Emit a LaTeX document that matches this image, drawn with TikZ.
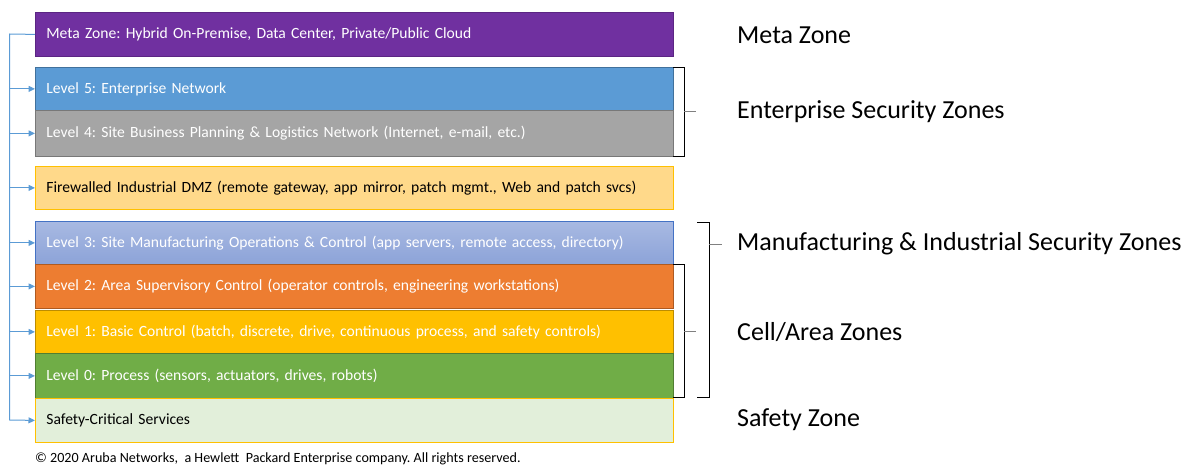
\documentclass[tikz,border=0pt]{standalone}
\usepackage{fontspec}
\setmainfont{Carlito}
\frenchspacing
\usetikzlibrary{arrows.meta,calc}
\definecolor{cMeta}{HTML}{7030A0}
\definecolor{cMetaB}{HTML}{5B2583}
\definecolor{cL5}{HTML}{5B9BD5}
\definecolor{cL5B}{HTML}{41719C}
\definecolor{cL4}{HTML}{A5A5A5}
\definecolor{cL4B}{HTML}{787878}
\definecolor{cDMZ}{HTML}{FFD98A}
\definecolor{cYel}{HTML}{FFC000}
\definecolor{cL3a}{HTML}{A8B9E2}
\definecolor{cL3b}{HTML}{8CA3D8}
\definecolor{cL3B}{HTML}{4472C4}
\definecolor{cL2}{HTML}{ED7D31}
\definecolor{cL2B}{HTML}{AE5A21}
\definecolor{cL1}{HTML}{FFC000}
\definecolor{cL1B}{HTML}{BC8C00}
\definecolor{cL0}{HTML}{70AD47}
\definecolor{cL0B}{HTML}{507E32}
\definecolor{cSafe}{HTML}{E2EFDA}
\definecolor{cLine}{HTML}{5B9BD5}
\tikzset{
  lvl/.style={draw, line width=0.8pt, minimum width=638pt, anchor=north west,
    inner xsep=11pt, inner ysep=0pt, text width=616pt, align=left,
    font=\fontsize{15.6}{17}\selectfont},
  wtxt/.style={text=white},
  conn/.style={draw=cLine, line width=1pt},
  arr/.style={conn, -{Triangle[length=6.5pt,width=6pt]}},
  brk/.style={draw=black, line width=0.8pt},
  tick/.style={draw=gray, line width=0.8pt},
  zlab/.style={anchor=west, inner sep=0pt, font=\fontsize{26}{30}\selectfont},
}
\begin{document}
\begin{tikzpicture}[x=1pt,y=-1pt]
\useasboundingbox (0,0) rectangle (1183,466);
% boxes
\node[lvl, wtxt, fill=cMeta, draw=cMetaB, minimum height=44pt] (meta) at (35,12) {Meta Zone: Hybrid On-Premise, Data Center, Private/Public Cloud};
\node[lvl, wtxt, fill=cL5, draw=cL5B, minimum height=43pt] (l5) at (35,67) {Level 5: Enterprise Network};
\node[lvl, wtxt, fill=cL4, draw=cL4B, minimum height=46pt] (l4) at (35,110) {Level 4: Site Business Planning \& Logistics Network (Internet, e-mail, etc.)};
\node[lvl, fill=cDMZ, draw=cYel, minimum height=43pt] (dmz) at (35,166) {Firewalled Industrial DMZ (remote gateway, app mirror, patch mgmt., Web and patch svcs)};
\node[lvl, wtxt, top color=cL3a, bottom color=cL3b, draw=cL3B, minimum height=43pt] (l3) at (35,221) {Level 3: Site Manufacturing Operations \& Control (app servers, remote access, directory)};
\node[lvl, wtxt, fill=cL2, draw=cL2B, minimum height=44pt] (l2) at (35,264) {Level 2: Area Supervisory Control (operator controls, engineering workstations)};
\node[lvl, wtxt, fill=cL1, draw=cL1B, minimum height=43pt] (l1) at (35,310) {Level 1: Basic Control (batch, discrete, drive, continuous process, and safety controls)};
\node[lvl, wtxt, fill=cL0, draw=cL0B, minimum height=45pt] (l0) at (35,353) {Level 0: Process (sensors, actuators, drives, robots)};
\node[lvl, fill=cSafe, draw=cYel, minimum height=44pt] (safe) at (35,398) {Safety-Critical Services};
% spine
\coordinate (stop) at (9.5,34);
\coordinate (sbot) at (9.5,420);
\draw[conn] (meta.west) -- (stop) -- (sbot);
\draw[arr] (sbot) -- (safe.west);
\foreach \n in {l5,l4,dmz,l3,l2,l1,l0}{
  \draw[arr] (stop |- \n.west) -- (\n.west);
}
% brackets
\coordinate (e1) at (673,67);  \coordinate (e2) at (684,67);
\coordinate (e3) at (684,156); \coordinate (e4) at (673,156);
\draw[brk] (e1) -- (e2) -- (e3) -- (e4);
\coordinate (et1) at (684,111); \coordinate (et2) at (696,111);
\draw[tick] (et1) -- (et2);
\coordinate (m1) at (697,222); \coordinate (m2) at (709,222);
\coordinate (m3) at (709,397); \coordinate (m4) at (697,397);
\draw[brk] (m1) -- (m2) -- (m3) -- (m4);
\coordinate (mt1) at (709,244); \coordinate (mt2) at (722,244);
\draw[tick] (mt1) -- (mt2);
\coordinate (c1) at (673,264); \coordinate (c2) at (684,264);
\coordinate (c3) at (684,397); \coordinate (c4) at (673,397);
\draw[brk] (c1) -- (c2) -- (c3) -- (c4);
\coordinate (ct1) at (684,331); \coordinate (ct2) at (696,331);
\draw[tick] (ct1) -- (ct2);
% labels
\node[zlab] (zmeta) at (737,35) {Meta Zone};
\node[zlab] (zent) at (737,112) {Enterprise Security Zones};
\node[zlab] (zman) at (737,244) {Manufacturing \& Industrial Security Zones};
\node[zlab] (zcell) at (737,332) {Cell/Area Zones};
\node[zlab] (zsafe) at (737,420) {Safety Zone};
\node[anchor=base west, inner sep=0pt, font=\fontsize{14.1}{16}\selectfont] (copy) at (35,462) {© 2020 Aruba Networks,\ \ a Hewlett\ \ Packard Enterprise company. All rights reserved.};
\end{tikzpicture}
\end{document}
